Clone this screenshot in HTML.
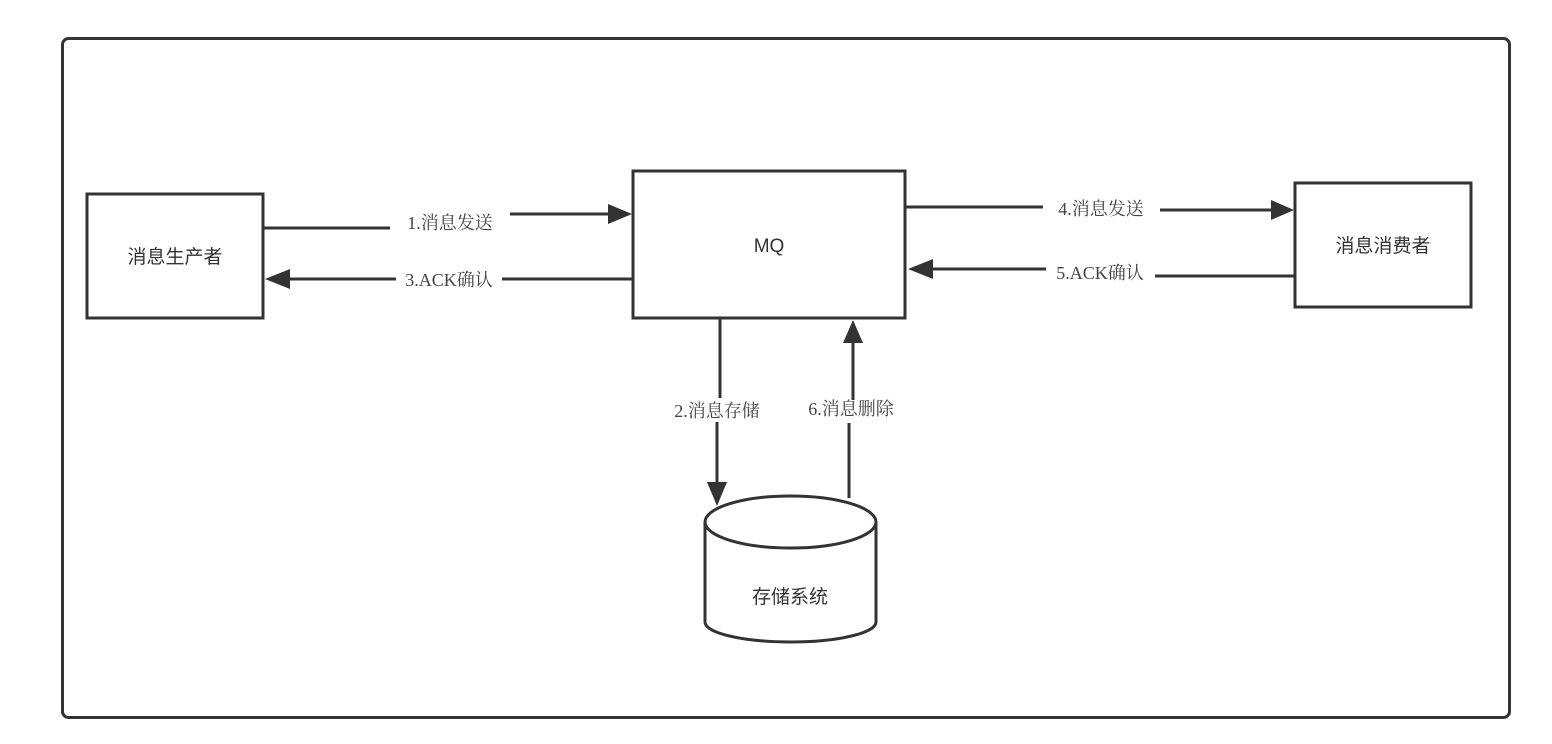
<!DOCTYPE html>
<html><head><meta charset="utf-8"><style>
html,body{margin:0;padding:0;background:#fff;}
svg{display:block;}
.l{font-family:"Liberation Serif","Noto Serif CJK SC",serif;font-size:18px;fill:#444;}
.n{font-family:"Liberation Sans","Noto Sans CJK SC",sans-serif;font-size:19px;fill:#333;}
</style></head><body>
<svg width="1552" height="744" viewBox="0 0 1552 744" xmlns="http://www.w3.org/2000/svg">
<defs>
<marker id="a" markerWidth="10" markerHeight="8" refX="9" refY="4" orient="auto" markerUnits="userSpaceOnUse" viewBox="0 0 10 8">
<path d="M0,0 L10,4 L0,8 z" fill="#333"/>
</marker>
<marker id="b" markerWidth="24" markerHeight="16" refX="23" refY="8" orient="auto" markerUnits="userSpaceOnUse" viewBox="0 0 24 16">
<path d="M0,0 L24,8 L0,16 z" fill="#333"/>
</marker>
</defs>
<rect x="62.5" y="38.5" width="1447" height="679" rx="6" fill="#fff" stroke="#333" stroke-width="3"/>
<g fill="#fff" stroke="#333" stroke-width="3">
<rect x="87" y="194" width="176" height="124"/>
<rect x="633" y="171" width="272" height="147"/>
<rect x="1295" y="183" width="176" height="124"/>
<path d="M705,522 L705,622 A85.5,20 0 0 0 876,622 L876,522"/>
<ellipse cx="790.5" cy="522" rx="85.5" ry="26"/>
</g>
<text class="n" x="175" y="263" text-anchor="middle">消息生产者</text>
<text class="n" x="769" y="252" text-anchor="middle">MQ</text>
<text class="n" x="1383" y="252" text-anchor="middle">消息消费者</text>
<text class="n" x="790" y="603" text-anchor="middle">存储系统</text>
<g fill="none" stroke="#333" stroke-width="3">
<path d="M263,228 L390,228"/>
<path d="M510,214 L608,214" />
<path d="M396,279 L290,279"/>
<path d="M633,279 L502,279"/>
<path d="M905,207 L1043,207"/>
<path d="M1160,210 L1271,210"/>
<path d="M1295,276 L1155,276"/>
<path d="M1046,269 L933,269"/>
<path d="M720,318 L720,398"/>
<path d="M717,422 L717,483"/>
<path d="M849,498 L849,423"/>
<path d="M853,400 L853,343"/>
</g>
<g fill="#333">
<path d="M608,204 L632,214 L608,224 z"/>
<path d="M290,269 L265,279 L290,289 z"/>
<path d="M1271,200 L1294,210 L1271,220 z"/>
<path d="M933,259 L908,269 L933,279 z"/>
<path d="M707,482 L717,506 L727,482 z"/>
<path d="M843,343 L853,320 L863,343 z"/>
</g>
<text class="l" x="450" y="229" text-anchor="middle">1.消息发送</text>
<text class="l" x="449" y="286" text-anchor="middle">3.ACK确认</text>
<text class="l" x="1101" y="215" text-anchor="middle">4.消息发送</text>
<text class="l" x="1100" y="279" text-anchor="middle">5.ACK确认</text>
<text class="l" x="717" y="417" text-anchor="middle">2.消息存储</text>
<text class="l" x="851" y="415" text-anchor="middle">6.消息删除</text>
</svg>
</body></html>
